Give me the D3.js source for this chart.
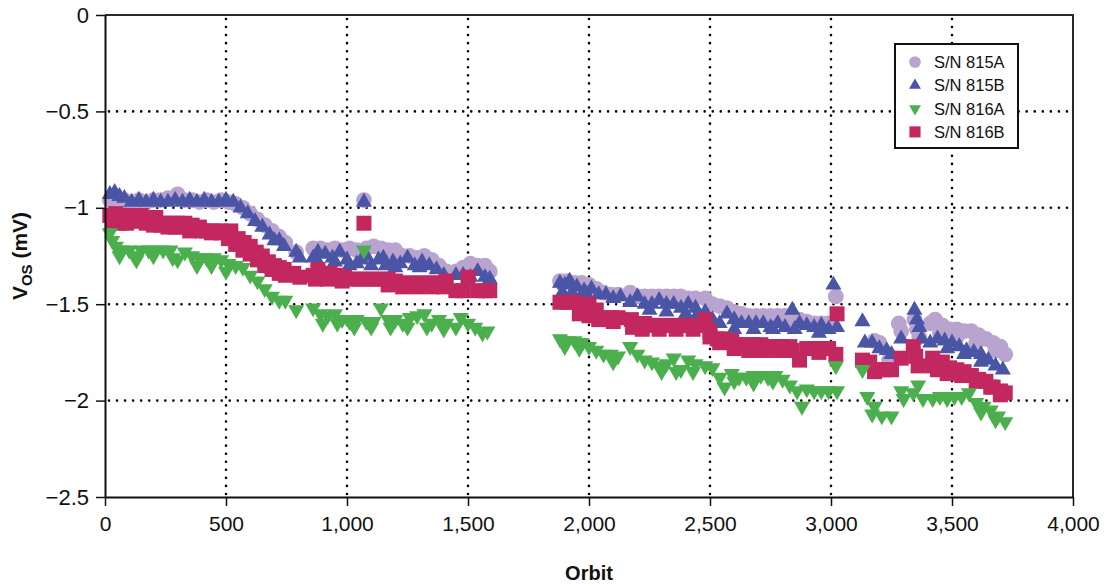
<!DOCTYPE html>
<html>
<head>
<meta charset="utf-8">
<script src="https://cdn.jsdelivr.net/npm/d3@7"></script>
<style>
  body { margin: 0; background: #fff; }
  text { font-family: "Liberation Sans", Arial, sans-serif; fill: #111; }
  .grid line { stroke: #000; stroke-width: 2.6; stroke-dasharray: 0, 8.05; stroke-linecap: round; }
</style>
</head>
<body>
<svg id="viz" width="1106" height="586"></svg>
<script>
// orbit / Vos (mV) pairs
const sn815A = [
  [20,-0.96],[50,-0.95],[80,-0.96],[110,-0.97],[140,-0.96],[170,-0.97],[200,-0.96],[230,-0.96],
  [260,-0.95],[300,-0.93],[330,-0.96],[360,-0.96],[390,-0.97],[420,-0.96],[450,-0.97],[480,-0.96],
  [510,-0.97],[540,-0.98],[570,-1.0],[600,-1.03],[630,-1.06],[660,-1.09],[690,-1.12],[720,-1.15],
  [745,-1.18],[790,-1.23],[860,-1.21],[890,-1.21],[920,-1.22],[950,-1.21],[980,-1.22],[1010,-1.21],
  [1040,-1.22],[1070,-0.96],[1080,-1.21],[1110,-1.2],[1140,-1.21],[1170,-1.22],[1200,-1.22],
  [1230,-1.25],[1260,-1.25],[1290,-1.26],[1320,-1.25],[1350,-1.27],[1380,-1.3],[1410,-1.33],
  [1450,-1.33],[1480,-1.31],[1510,-1.29],[1540,-1.3],[1570,-1.3],[1590,-1.33],
  [1880,-1.38],[1910,-1.38],[1940,-1.39],[1970,-1.39],[2000,-1.4],[2030,-1.42],[2060,-1.44],
  [2090,-1.45],[2120,-1.45],[2170,-1.44],[2200,-1.46],[2230,-1.46],[2260,-1.46],[2290,-1.46],
  [2320,-1.46],[2350,-1.46],[2380,-1.46],[2410,-1.47],[2440,-1.47],[2480,-1.47],[2510,-1.5],
  [2540,-1.51],[2570,-1.52],[2600,-1.54],[2630,-1.55],[2660,-1.56],[2690,-1.56],[2720,-1.56],
  [2750,-1.56],[2780,-1.56],[2810,-1.56],[2840,-1.58],[2870,-1.58],[2900,-1.59],[2930,-1.6],
  [2960,-1.6],[2990,-1.6],[3020,-1.46],
  [3180,-1.69],[3200,-1.7],[3240,-1.79],[3280,-1.6],[3290,-1.64],[3345,-1.58],[3355,-1.63],
  [3365,-1.67],[3410,-1.6],[3430,-1.58],[3460,-1.61],[3490,-1.63],[3520,-1.63],[3550,-1.64],
  [3580,-1.64],[3610,-1.66],[3640,-1.68],[3670,-1.7],[3700,-1.72],[3720,-1.76],
  [3450,-1.65],[3520,-1.67],[3600,-1.7],[3680,-1.74]
]

const sn815B = [
  [20,-0.93],[40,-0.92],[60,-0.94],[80,-0.95],[110,-0.97],[140,-0.96],[170,-0.97],[200,-0.96],
  [230,-0.97],[260,-0.97],[290,-0.96],[320,-0.97],[350,-0.96],[380,-0.97],[410,-0.96],[440,-0.97],
  [470,-0.97],[500,-0.96],[530,-0.97],[560,-1.0],[590,-1.03],[620,-1.07],[650,-1.1],[680,-1.14],
  [700,-1.17],[720,-1.17],[740,-1.2],[790,-1.23],[805,-1.26],[860,-1.26],[880,-1.23],[910,-1.24],
  [940,-1.26],[970,-1.23],[1010,-1.3],[1040,-1.29],[1060,-1.27],[1070,-0.97],[1100,-1.3],
  [1130,-1.27],[1160,-1.3],[1190,-1.28],[1220,-1.29],[1250,-1.26],[1280,-1.3],[1310,-1.28],
  [1340,-1.3],[1370,-1.32],[1400,-1.35],[1450,-1.35],[1480,-1.35],[1510,-1.36],[1540,-1.33],
  [1570,-1.36],[1590,-1.37],
  [880,-1.28],[950,-1.28],[1000,-1.27],[1080,-1.25],[1150,-1.26],[1200,-1.31],[1300,-1.31],
  [1880,-1.39],[1900,-1.4],[1920,-1.38],[1950,-1.41],[1980,-1.43],[2010,-1.42],[2040,-1.45],
  [2070,-1.45],[2100,-1.47],[2130,-1.46],[2170,-1.49],[2200,-1.46],[2230,-1.5],[2260,-1.5],
  [2290,-1.48],[2320,-1.5],[2350,-1.5],[2380,-1.52],[2410,-1.5],[2440,-1.52],[2480,-1.54],
  [2510,-1.58],[2540,-1.6],[2570,-1.55],[2600,-1.58],[2630,-1.6],[2660,-1.6],[2690,-1.6],
  [2720,-1.6],[2750,-1.62],[2780,-1.6],[2810,-1.62],[2840,-1.53],[2870,-1.6],[2900,-1.61],
  [2930,-1.62],[2960,-1.61],[2990,-1.63],[3010,-1.4],[3025,-1.62],
  [1890,-1.44],[1930,-1.44],[1990,-1.45],[2250,-1.53],[2320,-1.54],[2400,-1.55],[2450,-1.55],
  [2600,-1.63],[2680,-1.63],[2760,-1.63],[2850,-1.63],[2950,-1.65],
  [3130,-1.59],[3140,-1.7],[3170,-1.7],[3200,-1.73],[3230,-1.74],[3250,-1.76],[3290,-1.68],
  [3345,-1.53],[3355,-1.58],[3365,-1.62],[3375,-1.68],[3410,-1.7],[3440,-1.68],[3470,-1.69],
  [3500,-1.7],[3530,-1.72],[3560,-1.74],[3590,-1.75],[3620,-1.76],[3650,-1.79],[3680,-1.82],
  [3710,-1.84],[3480,-1.73],[3550,-1.76],[3620,-1.8]
]

const sn816A = [
  [20,-1.13],[30,-1.17],[45,-1.2],[70,-1.22],[100,-1.22],[130,-1.27],[150,-1.22],[180,-1.22],
  [210,-1.22],[240,-1.22],[270,-1.22],[300,-1.27],[330,-1.23],[360,-1.25],[390,-1.26],[420,-1.26],
  [450,-1.26],[480,-1.27],[510,-1.29],[540,-1.3],[570,-1.31],[600,-1.35],[630,-1.38],[660,-1.42],
  [690,-1.46],[720,-1.48],[745,-1.48],[790,-1.53],[860,-1.52],[890,-1.55],[920,-1.56],[950,-1.55],
  [980,-1.58],[1010,-1.59],[1040,-1.58],[1070,-1.22],[1080,-1.59],[1110,-1.59],[1140,-1.52],
  [1170,-1.58],[1200,-1.58],[1230,-1.6],[1260,-1.57],[1290,-1.56],[1320,-1.55],[1350,-1.6],
  [1380,-1.58],[1410,-1.6],[1450,-1.62],[1470,-1.57],[1500,-1.6],[1530,-1.62],[1560,-1.65],
  [1580,-1.64],
  [60,-1.25],[120,-1.25],[200,-1.25],[280,-1.26],[380,-1.3],[440,-1.3],[500,-1.33],
  [900,-1.6],[960,-1.6],[1030,-1.62],[1100,-1.62],[1180,-1.62],[1250,-1.62],[1330,-1.62],
  [1400,-1.63],
  [1880,-1.68],[1910,-1.69],[1940,-1.69],[1970,-1.7],[2000,-1.72],[2030,-1.74],[2060,-1.76],
  [2090,-1.76],[2120,-1.77],[2170,-1.72],[2200,-1.76],[2230,-1.79],[2260,-1.8],[2290,-1.82],
  [2320,-1.81],[2350,-1.78],[2380,-1.84],[2410,-1.79],[2440,-1.81],[2480,-1.82],[2510,-1.83],
  [2540,-1.88],[2560,-1.93],[2590,-1.86],[2620,-1.88],[2650,-1.88],[2680,-1.87],[2710,-1.87],
  [2740,-1.88],[2770,-1.87],[2800,-1.89],[2830,-1.92],[2860,-1.95],[2880,-2.03],[2900,-1.94],
  [2930,-1.95],[2960,-1.95],[2990,-1.95],[3020,-1.82],[3025,-1.95],
  [1900,-1.72],[1960,-1.73],[2100,-1.8],[2300,-1.85],[2360,-1.85],[2430,-1.85],[2600,-1.9],
  [2680,-1.91],[2760,-1.9],
  [3130,-1.84],[3150,-1.98],[3180,-2.03],[3210,-2.08],[3250,-2.08],[3290,-1.95],[3300,-1.99],
  [3340,-1.96],[3360,-1.92],[3380,-1.99],[3420,-1.99],[3450,-1.98],[3480,-1.99],[3510,-1.98],
  [3540,-1.98],[3570,-1.96],[3600,-2.01],[3630,-2.03],[3660,-2.05],[3690,-2.08],[3720,-2.11],
  [3170,-2.07],[3620,-2.06],[3680,-2.1]
]

const sn816B = [
  [20,-1.04],[45,-1.03],[70,-1.05],[95,-1.04],[120,-1.07],[150,-1.04],[180,-1.06],[210,-1.05],
  [240,-1.08],[270,-1.08],[300,-1.08],[330,-1.08],[360,-1.09],[390,-1.1],[420,-1.12],[450,-1.12],
  [480,-1.12],[520,-1.12],[550,-1.16],[575,-1.18],[600,-1.2],[625,-1.23],[650,-1.25],[675,-1.28],
  [700,-1.3],[720,-1.31],[740,-1.32],[780,-1.34],[805,-1.36],[860,-1.35],[880,-1.32],[900,-1.35],
  [930,-1.34],[960,-1.35],[990,-1.36],[1020,-1.37],[1050,-1.37],[1070,-1.08],[1080,-1.37],
  [1110,-1.37],[1140,-1.37],[1170,-1.37],[1200,-1.38],[1230,-1.39],[1260,-1.39],[1290,-1.39],
  [1320,-1.39],[1350,-1.39],[1380,-1.39],[1410,-1.38],[1450,-1.43],[1480,-1.43],[1500,-1.36],
  [1540,-1.43],[1570,-1.43],[1590,-1.43],
  [30,-1.07],[60,-1.08],[90,-1.08],[170,-1.08],[200,-1.09],[230,-1.09],[260,-1.1],[290,-1.1],
  [320,-1.1],[350,-1.12],[400,-1.12],[440,-1.13],[480,-1.13],[510,-1.16],[540,-1.19],[570,-1.22],
  [600,-1.24],[630,-1.27],[660,-1.3],[690,-1.32],[720,-1.34],[745,-1.35],
  [870,-1.37],[920,-1.37],[980,-1.38],[1170,-1.4],[1230,-1.41],[1290,-1.41],[1350,-1.41],
  [1400,-1.41],
  [1880,-1.49],[1910,-1.49],[1940,-1.49],[1970,-1.51],[2000,-1.5],[2030,-1.53],[2060,-1.57],
  [2090,-1.57],[2120,-1.57],[2175,-1.58],[2200,-1.6],[2230,-1.6],[2260,-1.61],[2290,-1.61],
  [2320,-1.61],[2350,-1.61],[2380,-1.61],[2410,-1.61],[2440,-1.61],[2480,-1.58],[2500,-1.64],
  [2530,-1.68],[2560,-1.68],[2590,-1.69],[2620,-1.71],[2650,-1.71],[2680,-1.71],[2710,-1.71],
  [2740,-1.72],[2770,-1.72],[2800,-1.72],[2830,-1.72],[2870,-1.79],[2900,-1.73],[2930,-1.73],
  [2960,-1.73],[2990,-1.73],[3020,-1.76],[3025,-1.55],
  [1960,-1.55],[2000,-1.56],[2040,-1.58],[2100,-1.59],[2180,-1.62],[2220,-1.63],[2290,-1.63],
  [2360,-1.63],[2430,-1.63],[2500,-1.67],[2540,-1.7],[2600,-1.73],[2660,-1.74],[2720,-1.74],
  [2780,-1.74],[2840,-1.74],[2950,-1.75],
  [3130,-1.79],[3160,-1.8],[3190,-1.84],[3220,-1.84],[3250,-1.84],[3290,-1.78],[3340,-1.72],
  [3350,-1.77],[3360,-1.82],[3420,-1.78],[3440,-1.84],[3460,-1.8],[3490,-1.83],[3520,-1.84],
  [3550,-1.85],[3580,-1.87],[3610,-1.89],[3640,-1.9],[3670,-1.93],[3700,-1.95],[3720,-1.96],
  [3180,-1.85],[3420,-1.82],[3480,-1.86],[3540,-1.87],[3600,-1.9],[3660,-1.93],[3700,-1.97]
]

const xTicks = [0, 500, 1000, 1500, 2000, 2500, 3000, 3500, 4000]
const yTicks = [0, -0.5, -1, -1.5, -2, -2.5]

const series = [
    { name: "S/N 815A", data: sn815A, color: "#b9a3cf", symbol: d3.symbolCircle, size: 195 },
    { name: "S/N 815B", data: sn815B, color: "#4a55a6", symbol: d3.symbolTriangle, size: 112, flip: false },
    { name: "S/N 816B", data: sn816B, color: "#c2285f", symbol: d3.symbolSquare, size: 225 },
    { name: "S/N 816A", data: sn816A, color: "#4aaf4c", symbol: d3.symbolTriangle, size: 112, flip: true }
]
const legendOrder = ["S/N 815A", "S/N 815B", "S/N 816A", "S/N 816B"]

const svg = d3.select("#viz"),
    margin = { top: 15, left: 105, right: 33, bottom: 89 },
    width = 1106 - margin.left - margin.right,
    height = 586 - margin.top - margin.bottom

const x = d3.scaleLinear().domain([0, 4000]).range([margin.left, margin.left + width])
const y = d3.scaleLinear().domain([-2.5, 0]).range([margin.top + height, margin.top])

// dotted grid
const grid = svg.append("g").attr("class", "grid")
grid.selectAll(".gx")
    .data(xTicks.slice(1, -1))
    .enter().append("line")
    .attr("x1", d => x(d)).attr("x2", d => x(d))
    .attr("y1", y(0) + 4).attr("y2", y(-2.5))
grid.selectAll(".gy")
    .data(yTicks.slice(1, -1))
    .enter().append("line")
    .attr("y1", d => y(d)).attr("y2", d => y(d))
    .attr("x1", x(0) + 4).attr("x2", x(4000))

// frame top + right
svg.append("path")
    .attr("d", `M${x(0)},${y(0)}H${x(4000)}V${y(-2.5)}`)
    .attr("fill", "none").attr("stroke", "#2a2a2a").attr("stroke-width", 2)

// markers
series.forEach(s => {
    svg.append("g").selectAll("path")
        .data(s.data)
        .enter().append("path")
        .attr("d", d3.symbol().type(s.symbol).size(s.size))
        .attr("transform", d => `translate(${x(d[0])},${y(d[1])})` + (s.flip ? " rotate(180)" : ""))
        .attr("fill", s.color)
})

// axes
const xAxis = svg.append("g")
    .attr("transform", `translate(0,${y(-2.5)})`)
    .call(d3.axisBottom(x).tickValues(xTicks).tickSize(9).tickSizeOuter(0)
        .tickFormat(d3.format(",")))
const yAxis = svg.append("g")
    .attr("transform", `translate(${x(0)},0)`)
    .call(d3.axisLeft(y).tickValues(yTicks).tickSize(9).tickSizeOuter(0)
        .tickFormat(d => d === 0 ? "0" : "\u2212" + Math.abs(d)))

;[xAxis, yAxis].forEach(a => {
    a.select(".domain").attr("stroke", "#111").attr("stroke-width", 2)
    a.selectAll(".tick line").attr("stroke", "#111").attr("stroke-width", 1.5)
    a.selectAll("text").attr("font-family", "Liberation Sans, Arial, sans-serif")
        .attr("font-size", 21).attr("fill", "#111")
})
xAxis.selectAll("text").attr("dy", "1.05em")
yAxis.selectAll("text").attr("x", -16).attr("font-size", 22)

// axis titles
svg.append("text")
    .attr("x", x(2000)).attr("y", 580)
    .attr("text-anchor", "middle")
    .attr("font-size", 20).attr("font-weight", "bold")
    .text("Orbit")

const ylab = svg.append("text")
    .attr("transform", `translate(27,${y(-1.25)}) rotate(-90)`)
    .attr("text-anchor", "middle")
    .attr("font-size", 21).attr("font-weight", "bold")
ylab.append("tspan").text("V")
ylab.append("tspan").attr("font-size", 15).attr("dy", 5).text("OS")
ylab.append("tspan").attr("dy", -5).text(" (mV)")

// legend
const legend = svg.append("g").attr("transform", "translate(895,44)")
legend.append("rect")
    .attr("width", 123).attr("height", 104)
    .attr("fill", "#fff").attr("stroke", "#111").attr("stroke-width", 2)

legendOrder.forEach((n, i) => {
    const s = series.find(d => d.name === n)
    const row = legend.append("g").attr("transform", `translate(20,${18 + i * 23.3})`)
    row.append("path")
        .attr("d", d3.symbol().type(s.symbol).size(s.size * 0.55))
        .attr("transform", s.flip ? "rotate(180)" : null)
        .attr("fill", s.color)
    row.append("text")
        .attr("x", 19).attr("dy", "0.36em")
        .attr("font-size", 16.5)
        .text(s.name)
})
</script>
</body>
</html>
